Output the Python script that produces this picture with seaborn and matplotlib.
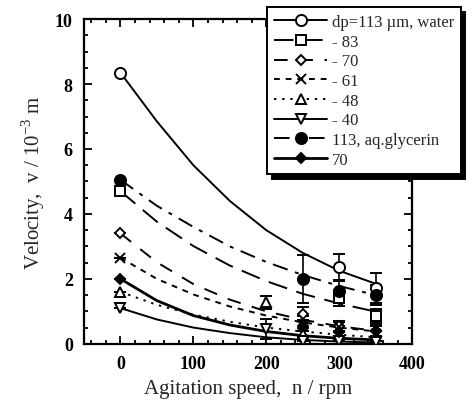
import numpy as np
import pandas as pd
import matplotlib
matplotlib.use("Agg")
import matplotlib.pyplot as plt
from matplotlib.lines import Line2D
from matplotlib.ticker import MultipleLocator
import seaborn as sns

# ======================
# data
# ======================
labels = ["dp=113 µm, water", "- 83", "- 70", "- 61", "- 48", "- 40",
          "113, aq.glycerin", "70"]
markers = ["o", "s", "D", "x", "^", "v", "o", "D"]
filled = [False, False, False, True, False, False, True, True]
styles = ["-", (0, (10, 5)), (0, (7, 6)), (0, (3, 3)), (0, (1.2, 3)), "-",
          (0, (8, 4, 2, 4)), "-"]

# measured points (speed, velocity, error)
pt_speed = [
    [0, 300, 350],
    [0, 300, 350],
    [0, 250, 300, 350],
    [0, 250, 300, 350],
    [0, 200, 250, 300],
    [0, 200, 250, 300, 350],
    [0, 250, 300, 350],
    [0, 250, 300, 350],
]
pt_vel = [
    [8.35, 2.37, 1.72],
    [4.7, 1.4, 0.87],
    [3.4, 0.92, 0.55, 0.4],
    [2.65, 0.55, 0.52, 0.3],
    [1.6, 1.28, 0.3, 0.25],
    [1.1, 0.45, 0.1, 0.08, 0.05],
    [5.05, 2.0, 1.62, 1.5],
    [2.0, 0.55, 0.35, 0.4],
]
pt_err = [
    [0, 0.4, 0.45],
    [0, 0.25, 0.2],
    [0, 0.2, 0.15, 0.15],
    [0, 0.15, 0.15, 0.1],
    [0, 0.2, 0.2, 0.15],
    [0, 0.3, 0.1, 0.1, 0.05],
    [0, 0.75, 0.3, 0.3],
    [0, 0.3, 0.2, 0.2],
]

# fitted curves read at 50 rpm steps
curve_speed = [0, 50, 100, 150, 200, 250, 300, 350]
curve_vel = [
    [8.35, 6.85, 5.5, 4.4, 3.5, 2.8, 2.25, 1.85],
    [4.7, 3.76, 3.01, 2.41, 1.93, 1.54, 1.24, 0.99],
    [3.4, 2.51, 1.84, 1.36, 1.0, 0.74, 0.54, 0.4],
    [2.65, 2.0, 1.52, 1.15, 0.87, 0.66, 0.5, 0.38],
    [1.6, 1.2, 0.9, 0.68, 0.5, 0.38, 0.28, 0.2],
    [1.1, 0.75, 0.5, 0.33, 0.2, 0.12, 0.07, 0.04],
    [5.05, 4.25, 3.6, 3.0, 2.52, 2.12, 1.78, 1.5],
    [2.0, 1.33, 0.87, 0.58, 0.38, 0.25, 0.17, 0.12],
]

# ======================
# plot
# ======================
sns.set_style("ticks")
plt.rcParams["font.family"] = ["Liberation Serif", "DejaVu Serif"]
plt.rcParams["mathtext.fontset"] = "custom"
plt.rcParams["mathtext.rm"] = "Liberation Serif"

fig = plt.figure(figsize=(4.77, 4.10), dpi=100)
ax = fig.add_axes([0.176, 0.159, 0.688, 0.792])

rows = []
for i, lab in enumerate(labels):
    for s, v in zip(curve_speed, curve_vel[i]):
        rows.append({"series": lab, "speed": s, "vel": v})
curves = pd.DataFrame(rows)

handles = []
for i, lab in enumerate(labels):
    sub = curves[curves["series"] == lab]
    lw = 2.0 if i == 7 else 1.4
    sns.lineplot(data=sub, x="speed", y="vel", ax=ax, color="black",
                 linewidth=lw, linestyle=styles[i], estimator=None,
                 sort=False, legend=False)
    fc = "black" if filled[i] else "white"
    ms = 8 if markers[i] == "o" else 7
    if markers[i] == "D":
        ms = 5.5
    ax.errorbar(pt_speed[i], pt_vel[i], yerr=pt_err[i], fmt=markers[i],
                color="black", mfc=fc, mec="black", ms=ms, mew=1.4,
                ecolor="black", elinewidth=1.2, capsize=4, capthick=1.2,
                zorder=3)
    handles.append(Line2D([0], [0], color="black", linestyle=styles[i],
                          linewidth=lw, marker=markers[i], mfc=fc,
                          mec="black", ms=ms, mew=1.4))

ax.set_xlim(-50, 400)
ax.set_ylim(0, 10)
ax.xaxis.set_major_locator(MultipleLocator(100))
ax.xaxis.set_minor_locator(MultipleLocator(20))
ax.yaxis.set_major_locator(MultipleLocator(2))
ax.yaxis.set_minor_locator(MultipleLocator(0.5))
ax.tick_params(which="both", direction="in", top=True, right=True,
               width=1.3, colors="black")
ax.tick_params(which="major", length=6, labelsize=13, pad=8)
ax.tick_params(which="minor", length=3)
for t in ax.get_xticklabels() + ax.get_yticklabels():
    t.set_fontweight("bold")
for sp in ax.spines.values():
    sp.set_linewidth(1.6)
    sp.set_color("black")

ax.set_xlabel("Agitation speed,  n / rpm", fontsize=15, labelpad=5)
ax.set_ylabel(r"Velocity,  v / 10$^{\mathregular{-3}}$ m", fontsize=15,
              labelpad=6)

leg = fig.legend(handles, labels, loc="upper left",
                 bbox_to_anchor=(0.543, 1.0), fontsize=12,
                 handlelength=3.2, handletextpad=0.3, labelspacing=0.22,
                 borderpad=0.4, fancybox=False, framealpha=1,
                 edgecolor="black",
                 shadow={"color": "black", "alpha": 1, "ox": 3, "oy": -3})
leg.get_frame().set_linewidth(1.4)

fig.savefig("out.png", dpi=100)
